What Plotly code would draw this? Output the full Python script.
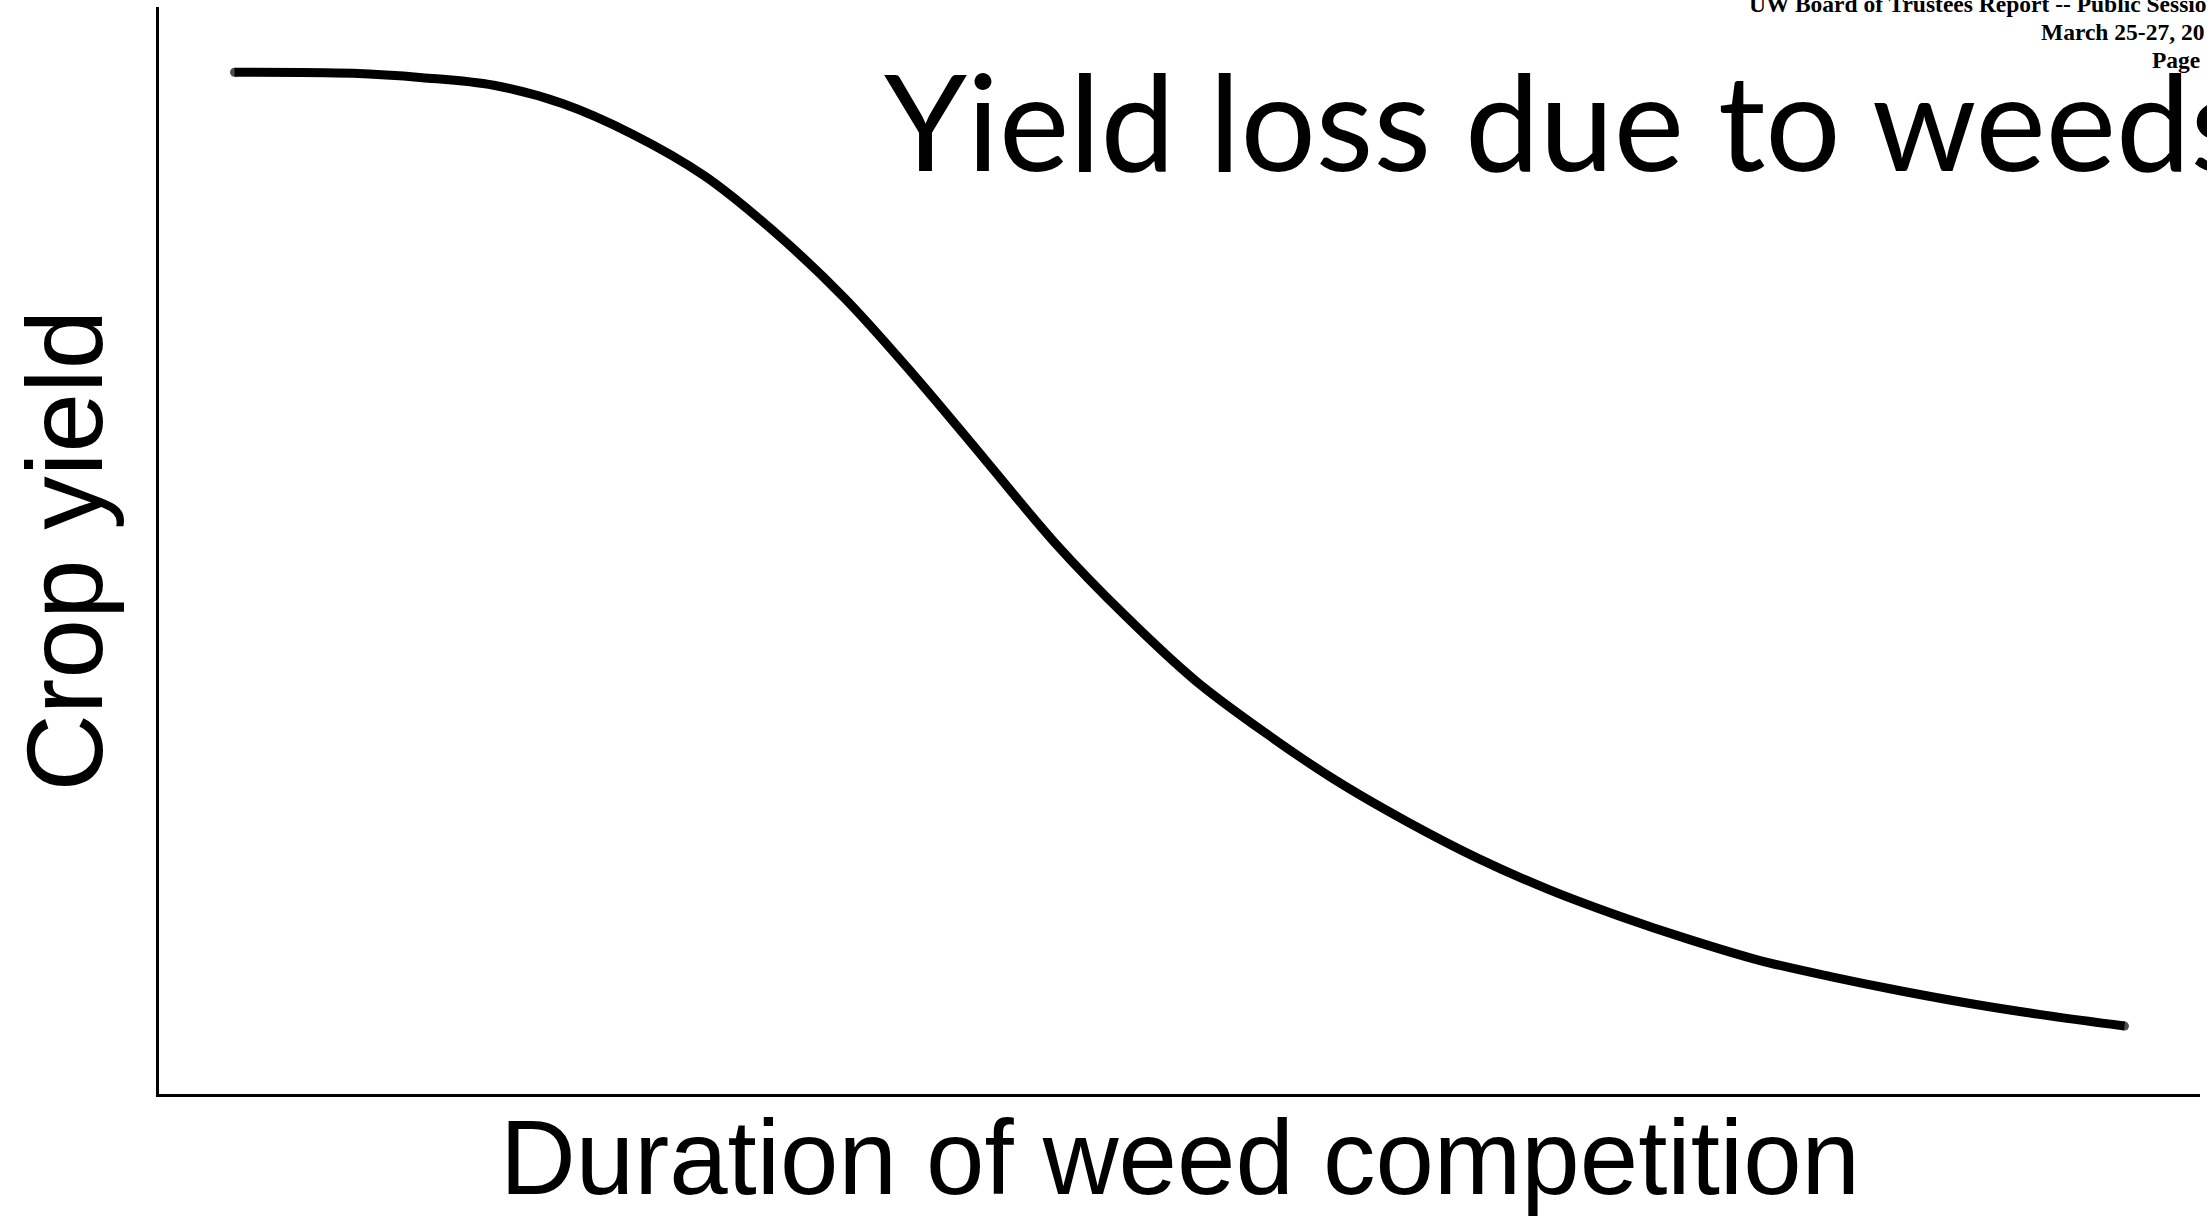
import plotly.graph_objects as go

# duration of weed competition (arbitrary units) vs crop yield (arbitrary units)
duration = [3.7, 9.5, 12.9, 16.4, 19.8, 23.2, 26.7, 30.1, 33.6, 37.0, 40.5,
            43.9, 47.4, 50.8, 54.3, 57.7, 61.2, 64.6, 68.1, 71.5, 75.0, 78.4,
            81.9, 85.3, 88.8, 92.2, 96.3]
crop_yield = [94.0, 93.9, 93.5, 92.8, 91.1, 88.3, 84.5, 79.4, 73.2, 66.1, 58.3,
              50.7, 43.9, 38.0, 33.1, 28.8, 25.0, 21.7, 18.8, 16.4, 14.2, 12.3,
              10.8, 9.5, 8.3, 7.3, 6.25]

title_text = "Yield loss due to weeds"
x_title = "Duration of weed competition"
y_title = "Crop yield"
header_lines = ["UW Board of Trustees Report -- Public Session",
                "March 25-27, 20",
                "Page"]

n = len(duration)
fig = go.Figure()
fig.add_trace(go.Scatter(
    x=duration, y=crop_yield,
    mode="lines+markers",
    line=dict(color="black", width=9, shape="spline", smoothing=1.0),
    # round off the two ends of the curve
    marker=dict(color="black", size=[9] + [0] * (n - 2) + [9], line=dict(width=0)),
    cliponaxis=False,
    hoverinfo="skip",
    showlegend=False))

W, H = 2207, 1218
L, R, T, B = 159, 7, 7, 124
pw, ph = W - L - R, H - T - B


def px(xp):
    return (xp - L) / pw


def py(yp):
    return (H - B - yp) / ph


annotations = [
    dict(text=title_text, x=px(882), y=py(119), xanchor="left", yanchor="middle",
         font=dict(family="Lato", size=133, color="black")),
    dict(text=x_title, x=0.5, y=py(1157), xanchor="center", yanchor="middle",
         font=dict(family="Liberation Sans, Arial", size=105, color="black")),
    dict(text=y_title, x=px(64), y=0.5, xanchor="center", yanchor="middle",
         textangle=-90,
         font=dict(family="Liberation Sans, Arial", size=107, color="black")),
]
header_pos = [(1747, 4), (2039, 32), (2150, 60)]
for line, (hx, hy) in zip(header_lines, header_pos):
    annotations.append(dict(
        text="<b>" + line + "</b>", x=px(hx), y=py(hy),
        xanchor="left", yanchor="middle",
        font=dict(family="Liberation Serif, Times New Roman", size=23.5, color="black")))

for a in annotations:
    a.update(xref="paper", yref="paper", showarrow=False)

fig.update_layout(
    width=W, height=H,
    margin=dict(l=L, r=R, t=T, b=B, autoexpand=False),
    paper_bgcolor="white", plot_bgcolor="white",
    annotations=annotations,
    xaxis=dict(range=[0, 100], showline=True, linecolor="black", linewidth=3,
               showgrid=False, zeroline=False, showticklabels=False, ticks=""),
    yaxis=dict(range=[0, 100], showline=True, linecolor="black", linewidth=3,
               showgrid=False, zeroline=False, showticklabels=False, ticks=""),
)

# drop the browser's default body margin so the figure sits at the page corner
fig.write_html("out.html",
               config={"displayModeBar": False},
               post_script="document.body.style.margin='0';"
                           "document.body.style.overflow='hidden';")
